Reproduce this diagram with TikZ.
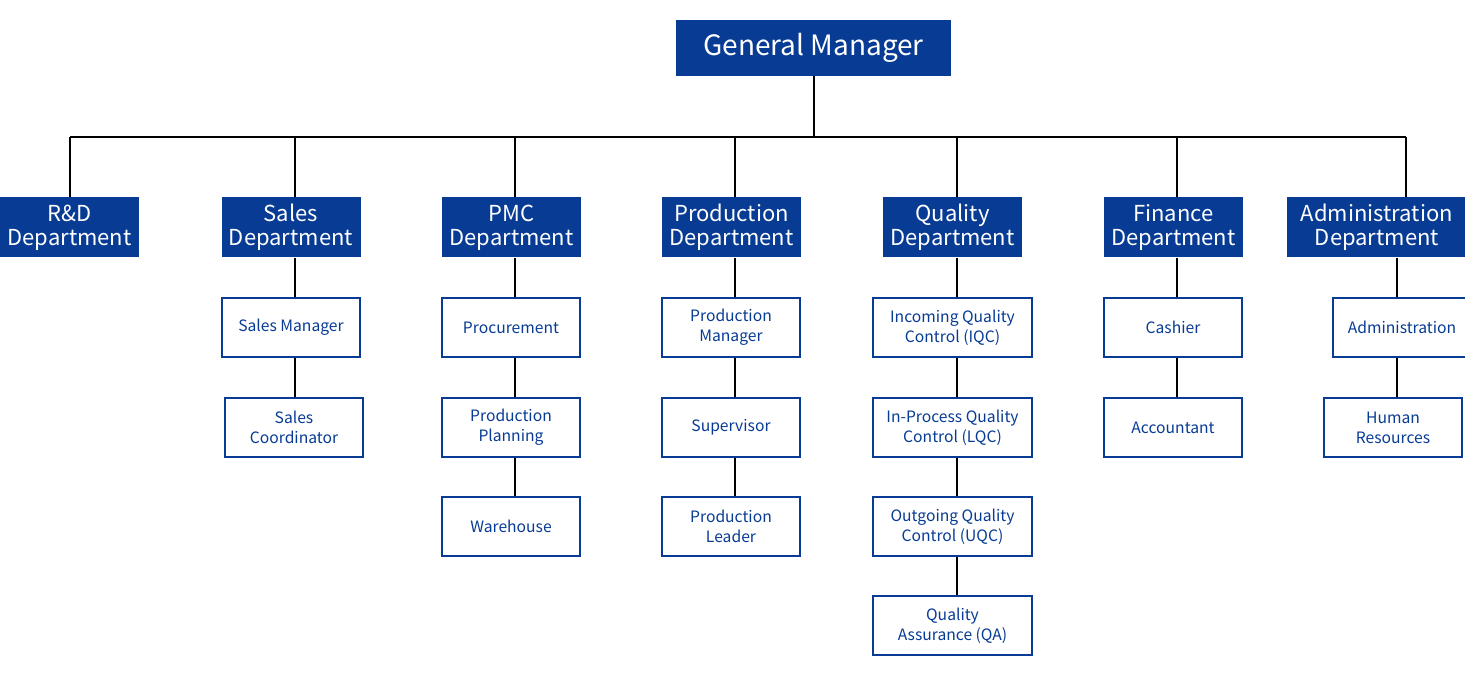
\documentclass[tikz,border=0pt]{standalone}
\usepackage{fontspec}
\setmainfont{Noto Sans CJK SC}
\usetikzlibrary{positioning}
\definecolor{gmblue}{RGB}{7,59,148}

\tikzset{
  head/.style={fill=gmblue,text=white,inner sep=0pt,align=center,
    minimum width=206.25pt,minimum height=42pt,font=\fontsize{21}{24}\selectfont},
  dept/.style={fill=gmblue,text=white,inner sep=0pt,align=center,
    minimum width=104.25pt,minimum height=45pt,font=\fontsize{16.5}{18}\selectfont},
  unit/.style={draw=gmblue,line width=1.5pt,text=gmblue,inner sep=0pt,align=center,
    minimum width=103.5pt,minimum height=44.25pt,font=\fontsize{11.75}{15}\selectfont},
  link/.style={line width=1.5pt,black}
}

\begin{document}
\begin{tikzpicture}[x=0.75pt,y=-0.75pt]
  \useasboundingbox (0,0) rectangle (1465,680);

  % top
  \node[head] (gm) at (813.5,48) {General Manager};

  % departments
  \node[dept] (rd)    at (69.5,227.5)   {R\&D\\Department};
  \node[dept] (sales) at (291,227.5)    {Sales\\Department};
  \node[dept] (pmc)   at (511.5,227.5)  {PMC\\Department};
  \node[dept] (prod)  at (731.5,227.5)  {Production\\Department};
  \node[dept] (qual)  at (952.5,227.5)  {Quality\\Department};
  \node[dept] (fin)   at (1173.5,227.5) {Finance\\Department};
  \node[dept,minimum width=135pt] (adm) at (1377,227.5) {Administration\\Department};

  % sales
  \node[unit] (smgr)   at (291,327.5) {Sales Manager};
  \node[unit] (scoord) at (294,427.5) {Sales\\Coordinator};
  % pmc
  \node[unit] (proc)  at (511,327.5) {Procurement};
  \node[unit] (plan)  at (511,427.5) {Production\\Planning};
  \node[unit] (ware)  at (511,526.5) {Warehouse};
  % production
  \node[unit] (pmgr)  at (731,327.5) {Production\\Manager};
  \node[unit] (super) at (731,427.5) {Supervisor};
  \node[unit] (plead) at (731,526.5) {Production\\Leader};
  % quality
  \node[unit,minimum width=119.25pt] (iqc) at (952.5,327.5) {Incoming Quality\\Control (IQC)};
  \node[unit,minimum width=119.25pt] (lqc) at (952.5,427.5) {In-Process Quality\\Control (LQC)};
  \node[unit,minimum width=119.25pt] (uqc) at (952.5,526.5) {Outgoing Quality\\Control (UQC)};
  \node[unit,minimum width=119.25pt] (qa)  at (952.5,625.5) {Quality\\Assurance (QA)};
  % finance
  \node[unit] (cash) at (1173,327.5) {Cashier};
  \node[unit] (acct) at (1173,427.5) {Accountant};
  % administration
  \node[unit] (admin) at (1402,327.5) {Administration};
  \node[unit] (hr)    at (1393,427.5) {Human\\Resources};

  % bus
  \coordinate (brd)    at (70,137);
  \coordinate (bsales) at (295,137);
  \coordinate (bpmc)   at (515,137);
  \coordinate (bprod)  at (735,137);
  \coordinate (bqual)  at (957,137);
  \coordinate (bfin)   at (1177,137);
  \coordinate (badm)   at (1406,137);
  \coordinate (badmb)  at (1397,137);

  \draw[link] (brd) -- (badm);
  \draw[link] (gm.south) -- (gm.south |- brd);
  \foreach \d in {rd,sales,pmc,prod,qual,fin,adm}
    \draw[link] (b\d) -- (b\d |- \d.north);

  \foreach \a/\b/\c in {sales/smgr/bsales,smgr/scoord/bsales,
      pmc/proc/bpmc,proc/plan/bpmc,plan/ware/bpmc,
      prod/pmgr/bprod,pmgr/super/bprod,super/plead/bprod,
      qual/iqc/bqual,iqc/lqc/bqual,lqc/uqc/bqual,uqc/qa/bqual,
      fin/cash/bfin,cash/acct/bfin,
      adm/admin/badmb,admin/hr/badmb}
    \draw[link] (\a.south -| \c) -- (\b.north -| \c);
\end{tikzpicture}
\end{document}
